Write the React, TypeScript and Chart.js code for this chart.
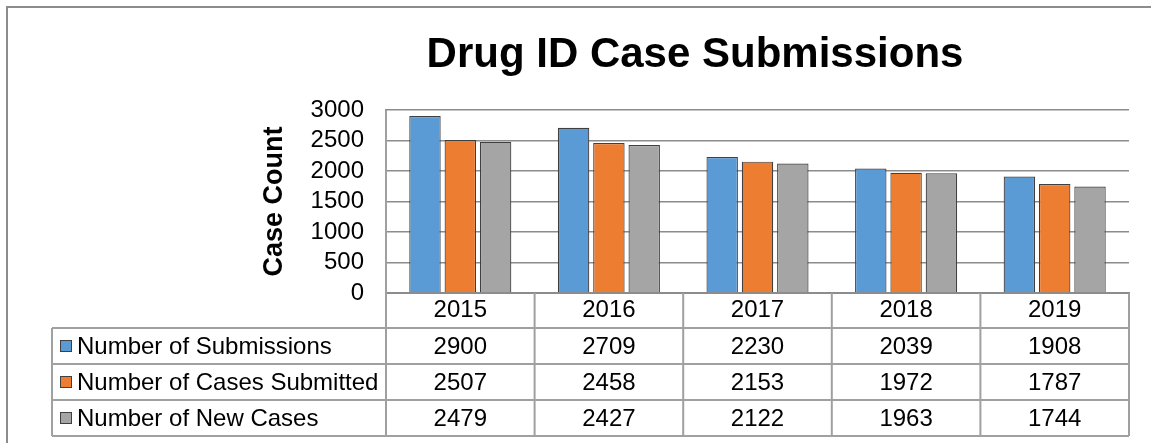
import React, { useEffect, useRef } from 'react';
import { Chart, registerables } from 'chart.js';

Chart.register(...registerables);

const chartTitle = 'Drug ID Case Submissions';
const yAxisTitle = 'Case Count';
const years = ['2015', '2016', '2017', '2018', '2019'];
const submissions = [2900, 2709, 2230, 2039, 1908];
const casesSubmitted = [2507, 2458, 2153, 1972, 1787];
const newCases = [2479, 2427, 2122, 1963, 1744];
const seriesNames = ['Number of Submissions', 'Number of Cases Submitted', 'Number of New Cases'];
const seriesValues = [submissions, casesSubmitted, newCases];
const seriesColors = ['#5B9BD5', '#ED7D31', '#A5A5A5'];
const yMin = 0;
const yMax = 3000;
const yStep = 500;

const FONT = '"Liberation Sans", Arial, sans-serif';
const GRID = '#8C8C8C';
const TABLE_LINE = '#A0A0A0';
const TEXT_SIZE = 24;

const tablePlugin = {
  id: 'dataTable',
  beforeDraw(chart: any) {
    const ctx = chart.ctx;
    ctx.save();
    ctx.fillStyle = '#ffffff';
    ctx.fillRect(0, 0, chart.width, chart.height);
    ctx.restore();
  },
  afterDraw(chart: any) {
    const ctx = chart.ctx;
    const area = chart.chartArea;
    const xs = chart.scales.x;
    const n = years.length;
    const cw = (area.right - area.left) / n;
    const headerH = 35;
    const rowH = 36;
    const top = area.bottom;
    const rowYs = [top + headerH];
    for (let i = 0; i < seriesNames.length; i++) rowYs.push(rowYs[i] + rowH);
    const bottom = rowYs[rowYs.length - 1];
    const legendLeft = 52;

    ctx.save();
    // outer frame (top and left visible)
    ctx.strokeStyle = GRID;
    ctx.lineWidth = 2;
    ctx.beginPath();
    ctx.moveTo(7, chart.height);
    ctx.lineTo(7, 7);
    ctx.lineTo(chart.width, 7);
    ctx.stroke();

    // table lines
    ctx.strokeStyle = TABLE_LINE;
    ctx.lineWidth = 2;
    ctx.beginPath();
    for (const y of rowYs) {
      ctx.moveTo(legendLeft, y);
      ctx.lineTo(area.right, y);
    }
    ctx.moveTo(legendLeft, rowYs[0]);
    ctx.lineTo(legendLeft, bottom);
    for (let i = 0; i <= n; i++) {
      const x = area.left + i * cw;
      ctx.moveTo(x, i === 0 ? area.top : top);
      ctx.lineTo(x, bottom);
    }
    ctx.stroke();

    // legend cells and values
    ctx.font = `${TEXT_SIZE}px ${FONT}`;
    ctx.fillStyle = '#000000';
    ctx.textBaseline = 'middle';
    for (let s = 0; s < seriesNames.length; s++) {
      const cy = (rowYs[s] + rowYs[s + 1]) / 2;
      ctx.fillStyle = seriesColors[s];
      ctx.fillRect(60, cy - 6, 12, 12);
      ctx.strokeStyle = '#404040';
      ctx.lineWidth = 1;
      ctx.strokeRect(60.5, cy - 5.5, 11, 11);
      ctx.fillStyle = '#000000';
      ctx.textAlign = 'left';
      ctx.fillText(seriesNames[s], 77, cy + 1);
      ctx.textAlign = 'center';
      for (let i = 0; i < n; i++) {
        ctx.fillText(String(seriesValues[s][i]), xs.getPixelForValue(i), cy + 1);
      }
    }

    // chart title
    ctx.font = `bold 42px ${FONT}`;
    ctx.textAlign = 'center';
    ctx.textBaseline = 'middle';
    ctx.fillText(chartTitle, 695, 55);
    ctx.restore();
  },
};

export default function App() {
  const ref = useRef<HTMLCanvasElement | null>(null);
  useEffect(() => {
    if (!ref.current) return;
    const chart = new Chart(ref.current, {
      type: 'bar',
      data: {
        labels: years,
        datasets: seriesNames.map((name, s) => ({
          label: name,
          data: seriesValues[s],
          backgroundColor: seriesColors[s],
          borderColor: '#3F3F3F',
          borderWidth: 1.2,
          barPercentage: 0.89,
          categoryPercentage: 0.713,
        })),
      },
      options: {
        responsive: false,
        animation: false,
        devicePixelRatio: 1,
        layout: { padding: { left: 250, right: 22, top: 110, bottom: 7 } },
        plugins: {
          legend: { display: false },
          title: { display: false },
          tooltip: { enabled: false },
        },
        scales: {
          x: {
            grid: { display: false, drawTicks: false },
            border: { display: true, color: GRID, width: 2 },
            ticks: { color: '#000', font: { family: FONT, size: TEXT_SIZE }, padding: 3 },
            afterFit: (s: any) => { s.height = 143; },
          },
          y: {
            min: yMin,
            max: yMax,
            ticks: {
              stepSize: yStep,
              autoSkip: false,
              color: '#000',
              font: { family: FONT, size: TEXT_SIZE },
              padding: 22,
              callback: (v: any) => String(v),
            },
            grid: { color: GRID, lineWidth: 1.5, drawTicks: false },
            border: { display: true, color: GRID, width: 2 },
            title: {
              display: true,
              text: yAxisTitle,
              color: '#000',
              font: { family: FONT, size: 27, weight: 'bold' },
              padding: { top: 8, bottom: 0 },
            },
            afterFit: (s: any) => { s.width = 136; },
          },
        },
      },
      plugins: [tablePlugin],
    });
    return () => chart.destroy();
  }, []);
  return (
    <div style={{ position: 'absolute', left: 0, top: 0, width: 1151, height: 443 }}>
      <canvas ref={ref} width={1151} height={443} style={{ display: 'block' }} />
    </div>
  );
}
